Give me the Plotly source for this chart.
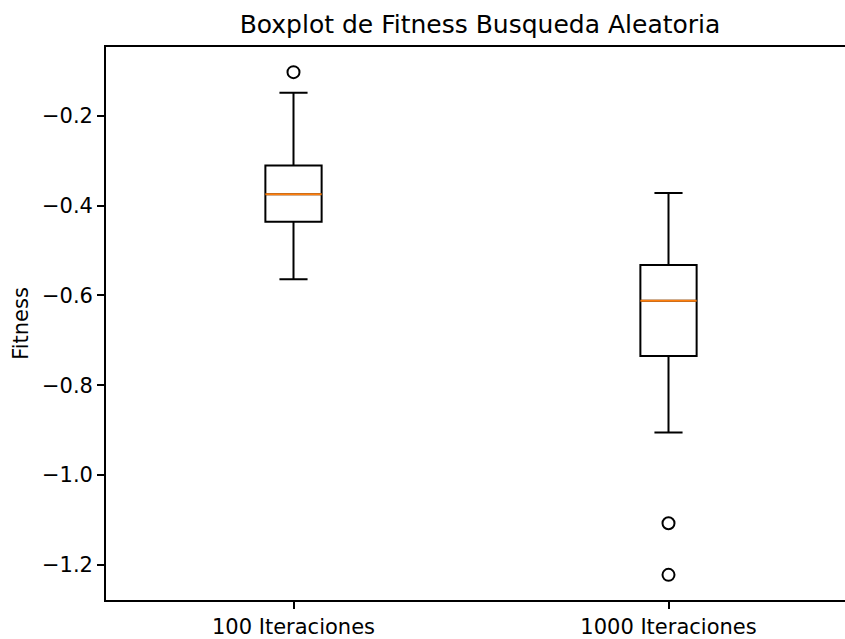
import plotly.graph_objects as go

# Summary statistics of the fitness values for each run length
categories = ["100 Iteraciones", "1000 Iteraciones"]
positions = [1, 2]
q1 = [-0.436, -0.735]
medians = [-0.375, -0.612]
q3 = [-0.311, -0.532]
lower_whisker = [-0.564, -0.905]
upper_whisker = [-0.149, -0.372]
outliers = [[-0.103], [-1.107, -1.222]]

y_ticks = [-1.2, -1.0, -0.8, -0.6, -0.4, -0.2]

BOX_WIDTH = 0.15
FONT = "DejaVu Sans"

fig = go.Figure()

fig.add_trace(go.Box(
    x=positions,
    q1=q1,
    median=medians,
    q3=q3,
    lowerfence=lower_whisker,
    upperfence=upper_whisker,
    width=BOX_WIDTH,
    whiskerwidth=0.5,
    boxpoints=False,
    fillcolor="rgba(0,0,0,0)",
    line=dict(color="black", width=2),
    showlegend=False,
    hoverinfo="skip",
))

# orange median lines drawn over the boxes
for pos, med in zip(positions, medians):
    fig.add_trace(go.Scatter(
        x=[pos - BOX_WIDTH / 2, pos + BOX_WIDTH / 2],
        y=[med, med],
        mode="lines",
        line=dict(color="#ff7f0e", width=2),
        showlegend=False,
        hoverinfo="skip",
    ))

# outlier markers
for pos, pts in zip(positions, outliers):
    fig.add_trace(go.Scatter(
        x=[pos] * len(pts),
        y=pts,
        mode="markers",
        marker=dict(symbol="circle-open", size=12, color="black",
                    line=dict(color="black", width=2)),
        showlegend=False,
        hoverinfo="skip",
    ))

fig.update_layout(
    width=845,
    height=639,
    margin=dict(l=106, r=0, t=47, b=36),
    paper_bgcolor="white",
    plot_bgcolor="white",
    font=dict(family=FONT, size=21, color="black"),
    title=dict(
        text="Boxplot de Fitness Busqueda Aleatoria",
        font=dict(family=FONT, size=25, color="black"),
        x=480 / 845,
        xref="container",
        xanchor="center",
        y=1 - 24 / 639,
        yref="container",
        yanchor="middle",
    ),
)

fig.update_xaxes(
    range=[0.5, 0.5 + 739 / 375],
    tickmode="array",
    tickvals=positions,
    ticktext=categories,
    showgrid=False,
    zeroline=False,
    showline=True,
    linecolor="black",
    linewidth=1.7,
    mirror=True,
    ticks="outside",
    ticklen=7,
    tickwidth=1.7,
    tickcolor="black",
    tickfont=dict(family=FONT, size=21, color="black"),
)

fig.update_yaxes(
    range=[-1.278, -0.047],
    tickmode="array",
    tickvals=y_ticks,
    tickformat=".1f",
    showgrid=False,
    zeroline=False,
    showline=True,
    linecolor="black",
    linewidth=1.7,
    ticks="outside",
    ticklen=7,
    tickwidth=1.7,
    tickcolor="black",
    tickfont=dict(family=FONT, size=21, color="black"),
    title=dict(text="Fitness", font=dict(family=FONT, size=21, color="black"), standoff=8),
)

fig.write_html("out.html")
